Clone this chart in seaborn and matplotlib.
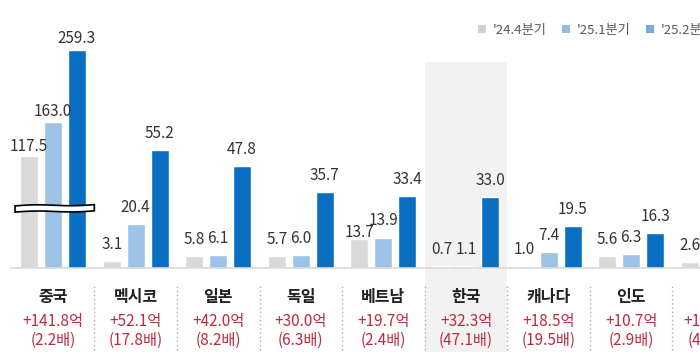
import numpy as np
import pandas as pd
import matplotlib
matplotlib.use("Agg")
import matplotlib.pyplot as plt
from matplotlib.patches import Patch, Rectangle, Polygon
import seaborn as sns

# ---------------- data ----------------
categories = ["중국", "멕시코", "일본", "독일", "베트남", "한국", "캐나다", "인도", ""]
periods = ["'24.4분기", "'25.1분기", "'25.2분기"]
q24_4 = [117.5, 3.1, 5.8, 5.7, 13.7, 0.7, 1.0, 5.6, 2.6]
q25_1 = [163.0, 20.4, 6.1, 6.0, 13.9, 1.1, 7.4, 6.3, np.nan]
q25_2 = [259.3, 55.2, 47.8, 35.7, 33.4, 33.0, 19.5, 16.3, np.nan]
increase = ["+141.8억", "+52.1억", "+42.0억", "+30.0억", "+19.7억", "+32.3억",
            "+18.5억", "+10.7억", "+1"]
ratio = ["(2.2배)", "(17.8배)", "(8.2배)", "(6.3배)", "(2.4배)", "(47.1배)",
         "(19.5배)", "(2.9배)", "(4"]
highlight = "한국"
broken = "중국"   # category drawn on a compressed (broken) scale

bar_colors = ["#d9d9d9", "#9dc3e6", "#0a6fc2"]
legend_colors = ["#d0d0d0", "#94bde3", "#7ca8da"]

# label offsets above bar tops (pixels) - style only
LABEL_OFFSET = 16.5
label_offset_override = {("중국", 0): 9.5, ("중국", 1): 11, ("중국", 2): 12,
                         ("베트남", 0): 6.5, ("베트남", 1): 18}

# ---------------- style ----------------
sns.set_style("white")
plt.rcParams["font.family"] = ["Noto Sans CJK KR", "DejaVu Sans"]

# compressed-scale mapping for the broken category
BRK_A, BRK_B = 11.07, 0.35


def display_value(cat, v):
    return BRK_A + BRK_B * v if cat == broken else v


rows = []
for series, p in zip([q24_4, q25_1, q25_2], periods):
    for c, v in zip(categories, series):
        if not np.isnan(v):
            rows.append({"cat": c, "period": p, "value": v,
                         "disp": display_value(c, v)})
df = pd.DataFrame(rows)

fig = plt.figure(figsize=(7.0, 3.58), dpi=100)
ax = fig.add_axes([0, 0, 1, 1])

sns.barplot(data=df, x="cat", y="disp", hue="period", order=categories,
            hue_order=periods, palette=bar_colors, width=0.87, gap=0.25,
            saturation=1, legend=False, ax=ax, zorder=2)

step = 0.87 / 3
series_all = [q24_4, q25_1, q25_2]
for patch in list(ax.patches):
    if patch.get_height() <= 0:
        continue
    cx = patch.get_x() + patch.get_width() / 2
    i = int(round(cx))
    j = int(round((cx - i) / step)) + 1
    if not (0 <= i < len(categories)) or not (0 <= j < 3):
        continue
    val = series_all[j][i]
    off = label_offset_override.get((categories[i], j), LABEL_OFFSET)
    ax.annotate(f"{val:.1f}", (cx, patch.get_height()), xytext=(0, off),
                textcoords="offset pixels", ha="center", va="center",
                fontsize=11, fontweight="medium", color="#333333", zorder=5)

# highlight band for Korea
hi = categories.index(highlight)
ax.add_patch(Rectangle((hi - 0.5, -39.3), 1.0, 135.6, facecolor="#f2f2f2",
                       edgecolor="none", zorder=0))

# axis-break symbol on the broken category
bi = categories.index(broken)
xs = np.linspace(bi - 0.46, bi + 0.5, 30)
top = 29.0 + 0.6 * (xs - xs[0]) / (xs[-1] - xs[0]) \
    + 0.35 * np.sin((xs - xs[0]) / (xs[-1] - xs[0]) * 2 * np.pi)
bot = top - 2.9
poly = np.vstack([np.column_stack([xs, top]), np.column_stack([xs[::-1], bot[::-1]])])
ax.add_patch(Polygon(poly, closed=True, facecolor="white", edgecolor="black",
                     lw=1.2, zorder=4))

# baseline
ax.hlines(0, -0.52, len(categories), color="#d9d9d9", lw=1.2, zorder=3)

# dotted separators
ax.vlines([i + 0.5 for i in range(len(categories) - 1)], -38.3, -7.9,
          colors="#aaaaaa", linestyles=(0, (1, 2)), lw=1, zorder=1)

# bottom labels
red = "#bd2a3e"
for i, c in enumerate(categories):
    if c:
        ax.text(i, -13.6, c, ha="center", va="center", fontsize=11.5,
                fontweight="bold", color="#222222")
        ax.text(i, -24.8, increase[i], ha="center", va="center", fontsize=11,
                fontweight="medium", color=red)
        ax.text(i, -33.6, ratio[i], ha="center", va="center", fontsize=11,
                fontweight="medium", color=red)
    else:
        # partially visible category at the right edge
        ax.text(i - 0.373, -24.8, increase[i], ha="left", va="center",
                fontsize=11, fontweight="medium", color=red)
        ax.text(i - 0.312, -33.6, ratio[i], ha="left", va="center",
                fontsize=11, fontweight="medium", color=red)

ax.set_xlim(-0.642, 7.833)
ax.set_ylim(-42.06, 125.2)
ax.axis("off")

handles = [Patch(facecolor=col, edgecolor="none") for col in legend_colors]
fig.legend(handles, periods, loc="center left", bbox_to_anchor=(478 / 700, 0.916),
           ncol=3, frameon=False, fontsize=9.5, handlelength=0.6,
           handleheight=0.6, handletextpad=0.5, columnspacing=1.2,
           borderpad=0, borderaxespad=0, labelcolor="#595959")

fig.savefig("out.png", dpi=100)
